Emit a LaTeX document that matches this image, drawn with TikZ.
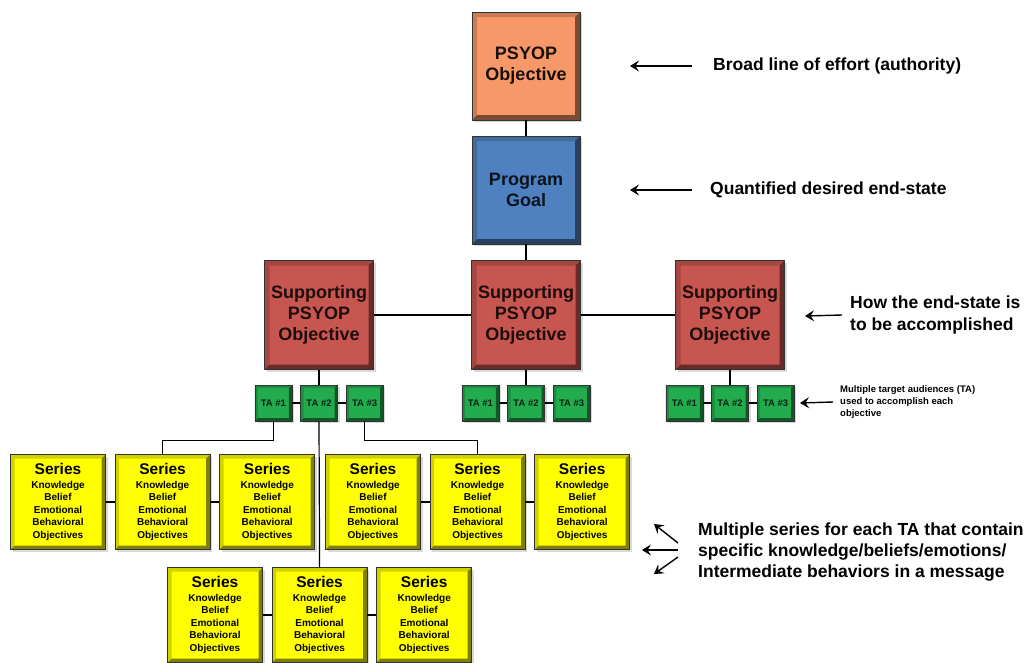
\documentclass[tikz,border=0pt]{standalone}
\usepackage{fontspec}
\setmainfont{Liberation Sans}
\usetikzlibrary{positioning,shadows,arrows.meta}
\definecolor{psyorange}{RGB}{247,152,104}
\definecolor{goalblue}{RGB}{79,129,192}
\definecolor{supred}{RGB}{200,86,80}
\definecolor{tagreen}{RGB}{34,172,78}
\definecolor{seryellow}{RGB}{255,255,0}
\newcommand{\serieslines}{{\fontsize{15.5}{17}\selectfont Series}\\[1pt]Knowledge\\Belief\\Emotional\\Behavioral\\Objectives}
\tikzset{bevel/.style 2 args={fill=#1, path picture={
	\path (path picture bounding box.south west) coordinate (p1) (path picture bounding box.south east) coordinate (p2)
		(path picture bounding box.north east) coordinate (p3) (path picture bounding box.north west) coordinate (p4);
	\fill[#1!82!black] (p1) -- (p4) -- (p3) -- ([shift={(-#2,-#2)}]p3) -- ([shift={(#2,-#2)}]p4) -- ([shift={(#2,#2)}]p1) -- cycle;
	\fill[#1!50!black] (p1) -- (p2) -- (p3) -- ([shift={(-#2,-#2)}]p3) -- ([shift={(-#2,#2)}]p2) -- ([shift={(#2,#2)}]p1) -- cycle;}}}
\tikzstyle{block} = [draw=black!80, line width=0.6pt, align=center, inner sep=0pt, drop shadow={shadow xshift=2pt, shadow yshift=-2pt, opacity=0.3}]
\tikzstyle{bigbox} = [block, minimum width=108pt, minimum height=108pt, font=\fontsize{18}{21}\selectfont\bfseries]
\tikzstyle{tabox} = [block, bevel={tagreen}{3pt}, minimum width=37pt, minimum height=36pt, font=\fontsize{9.5}{10}\selectfont\bfseries, text=black!80!tagreen]
\tikzstyle{seriesbox} = [block, bevel={seryellow}{4pt}, minimum width=95pt, minimum height=95pt, font=\fontsize{10}{12.5}\selectfont\bfseries]
\tikzstyle{link} = [draw=black, line width=1.2pt]
\tikzstyle{thicklink} = [draw=black, line width=2.6pt]
\tikzstyle{note} = [anchor=west, inner sep=0pt, align=left, font=\fontsize{17.5}{21.5}\selectfont\bfseries]
\tikzstyle{pointer} = [line width=1.4pt, -{Stealth[length=9pt,width=11pt,inset=3.5pt]}]

\begin{document}
\begin{tikzpicture}[x=1pt, y=-1pt]
	\useasboundingbox (0,0) rectangle (1034,662);
	\node[bigbox, bevel={psyorange}{5pt}, text=black!90!psyorange] (obj) at (526,66) {PSYOP\\Objective};
	\node[bigbox, bevel={goalblue}{5pt}, text=black!85!goalblue] (goal) at (526,190) {Program\\Goal};
	\node[bigbox, bevel={supred}{5pt}, text=black!85!supred, minimum width=109pt, minimum height=109pt] (sup1) at (319,315) {Supporting\\PSYOP\\Objective};
	\node[bigbox, bevel={supred}{5pt}, text=black!85!supred, minimum width=109pt, minimum height=109pt] (sup2) at (526,315) {Supporting\\PSYOP\\Objective};
	\node[bigbox, bevel={supred}{5pt}, text=black!85!supred, minimum width=109pt, minimum height=109pt] (sup3) at (730,315) {Supporting\\PSYOP\\Objective};

	\node[tabox, below=15pt of sup1] (ta12) {TA \#2};
	\node[tabox, left=8pt of ta12] (ta11) {TA \#1};
	\node[tabox, right=8pt of ta12] (ta13) {TA \#3};
	\node[tabox, below=15pt of sup2] (ta22) {TA \#2};
	\node[tabox, left=8pt of ta22] (ta21) {TA \#1};
	\node[tabox, right=8pt of ta22] (ta23) {TA \#3};
	\node[tabox, below=15pt of sup3] (ta32) {TA \#2};
	\node[tabox, left=8pt of ta32] (ta31) {TA \#1};
	\node[tabox, right=8pt of ta32] (ta33) {TA \#3};

	\node[seriesbox] (s1) at (58,502) {\serieslines};
	\node[seriesbox, right=9pt of s1] (s2) {\serieslines};
	\node[seriesbox, right=9pt of s2] (s3) {\serieslines};
	\node[seriesbox] (s4) at (373,502) {\serieslines};
	\node[seriesbox, right=9pt of s4] (s5) {\serieslines};
	\node[seriesbox, right=9pt of s5] (s6) {\serieslines};
	\node[seriesbox] (s7) at (215,615) {\serieslines};
	\node[seriesbox, right=9pt of s7] (s8) {\serieslines};
	\node[seriesbox, right=9pt of s8] (s9) {\serieslines};

	\draw[thicklink] (obj) -- (goal) -- (sup2);
	\draw[thicklink] (sup1) -- (sup2) -- (sup3);
	\draw[thicklink] (sup1) -- (ta12);
	\draw[thicklink] (sup2) -- (ta22);
	\draw[thicklink] (sup3) -- (ta32);
	\draw[thicklink] (ta11) -- (ta12) -- (ta13);
	\draw[thicklink] (ta21) -- (ta22) -- (ta23);
	\draw[thicklink] (ta31) -- (ta32) -- (ta33);
	\draw[link] (ta11.south) -- ++(0,19) -| (s2.north);
	\draw[link] (ta13.south) -- ++(0,19) -| (s5.north);
	\draw[link] (ta12.south) -- (s8.north);
	\draw[thicklink] (s1) -- (s2) -- (s3);
	\draw[thicklink] (s4) -- (s5) -- (s6);
	\draw[thicklink] (s7) -- (s8) -- (s9);

	\node[note] (n1) at (713,66) {Broad line of effort (authority)};
	\node[note] (n2) at (710,190) {Quantified desired end-state};
	\node[note, font=\fontsize{17.5}{22.5}\selectfont\bfseries] (n3) at (850,315) {How the end-state is\\to be accomplished};
	\node[note, font=\fontsize{9.5}{12}\selectfont\bfseries] (n4) at (840,402) {Multiple target audiences (TA)\\used to accomplish each\\objective};
	\node[note, font=\fontsize{17.5}{21}\selectfont\bfseries] (n5) at (698,552) {Multiple series for each TA that contain\\specific knowledge/beliefs/emotions/\\Intermediate behaviors in a message};
	\coordinate (a1) at (630,66);
	\coordinate (a2) at (630,190);
	\coordinate (a3) at (805,316);
	\coordinate (a4) at (800,403);
	\coordinate (a5) at (654,524);
	\coordinate (a6) at (642,550);
	\coordinate (a7) at (654,574);
	\draw[pointer] ([xshift=-21pt]n1.west) -- (a1);
	\draw[pointer] ([xshift=-18pt]n2.west) -- (a2);
	\draw[pointer] ([xshift=-8pt]n3.west) -- (a3);
	\draw[pointer] ([xshift=-7pt]n4.west) -- (a4);
	\draw[pointer] ([xshift=-20pt, yshift=9pt]n5.west) -- (a5);
	\draw[pointer] ([xshift=-20pt, yshift=2pt]n5.west) -- (a6);
	\draw[pointer] ([xshift=-20pt, yshift=-5pt]n5.west) -- (a7);
\end{tikzpicture}
\end{document}
